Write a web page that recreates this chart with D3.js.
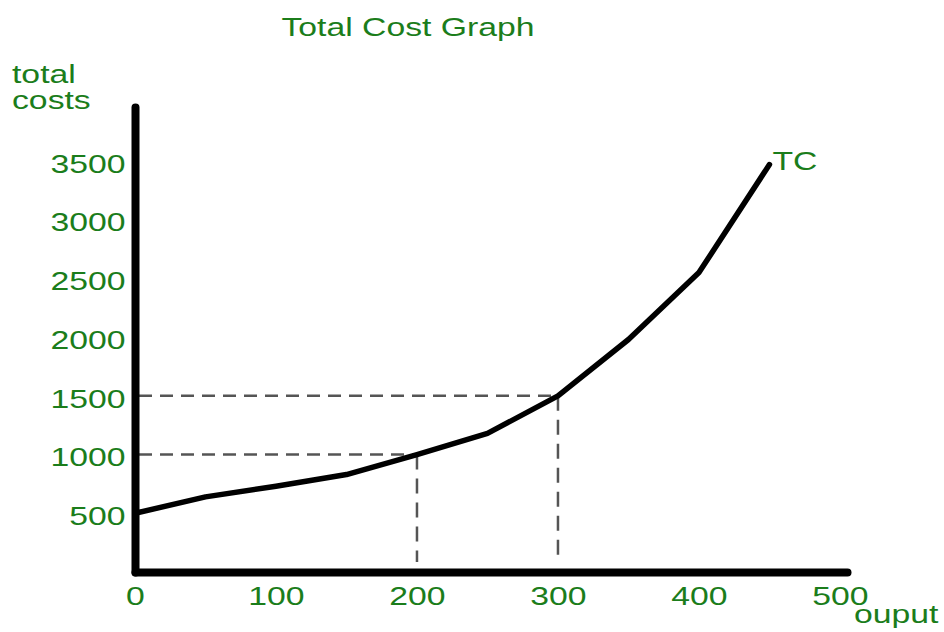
<!DOCTYPE html>
<html>
<head>
<meta charset="utf-8">
<script src="https://cdn.jsdelivr.net/npm/d3@7"></script>
<style>
    body { margin: 0; background: #fff; }
    svg text { font-family: "Liberation Sans", Arial, sans-serif; fill: #1b7d1b; }
</style>
</head>
<body>
<div id="chart"></div>
<script>
// output levels and total cost
const output = [0, 50, 100, 150, 200, 250, 300, 350, 400, 450];
const totalCost = [500, 640, 730, 830, 1000, 1180, 1500, 1980, 2550, 3470];

// guide points marked with dashed lines
const guideOutput = [200, 300];
const guideCost = [1000, 1500];

const xTicks = [0, 100, 200, 300, 400, 500];
const yTicks = [500, 1000, 1500, 2000, 2500, 3000, 3500];

const green = "#1b7d1b";
const stretch = 1.35;   // the lettering in the picture is wide

const width = 944, height = 632;

const svg = d3.select("#chart").append("svg")
    .attr("width", width)
    .attr("height", height);

// scales
let x = d3.scaleLinear()
    .domain([0, 505])
    .range([135, 847]);

let y = d3.scaleLinear()
    .domain([0, 3960])
    .range([572, 107]);

// helper for stretched text
function label(text, px, py, anchor) {
    return svg.append("text")
        .attr("transform", `translate(${px},${py}) scale(${stretch},1)`)
        .attr("text-anchor", anchor || "start")
        .style("font-size", "25px")
        .text(text);
}

// dashed guide lines
let guides = guideOutput.map((g, i) => ({x: g, y: guideCost[i]}));

svg.selectAll(".hguide")
    .data(guides)
    .enter()
    .append("line")
    .attr("class", "hguide")
    .attr("x1", x(0) + 4)
    .attr("x2", d => x(d.x))
    .attr("y1", d => y(d.y))
    .attr("y2", d => y(d.y))
    .attr("stroke", "#555")
    .attr("stroke-width", 2.5)
    .attr("stroke-dasharray", "13,8");

svg.selectAll(".vguide")
    .data(guides)
    .enter()
    .append("line")
    .attr("class", "vguide")
    .attr("x1", d => x(d.x))
    .attr("x2", d => x(d.x))
    .attr("y1", d => y(d.y))
    .attr("y2", y(0) - 10)
    .attr("stroke", "#555")
    .attr("stroke-width", 2.5)
    .attr("stroke-dasharray", "15,9");

// axes
let xAxis = svg.append("g")
    .attr("transform", `translate(0,${y(0)})`)
    .call(d3.axisBottom(x).tickValues(xTicks).tickFormat(d3.format("d")).tickSize(0).tickPadding(15));

let yAxis = svg.append("g")
    .attr("transform", `translate(${x(0)},0)`)
    .call(d3.axisLeft(y).tickValues(yTicks).tickFormat(d3.format("d")).tickSize(0).tickPadding(7));

[xAxis, yAxis].forEach(a => {
    a.select(".domain")
        .attr("stroke", "#000")
        .attr("stroke-width", 8)
        .attr("stroke-linecap", "round");
    a.selectAll("text")
        .attr("fill", green)
        .style("font-size", "25px")
        .style("font-family", "\"Liberation Sans\", Arial, sans-serif");
});

xAxis.selectAll("text")
    .attr("transform", `scale(${stretch},1)`);

yAxis.selectAll("text")
    .attr("dy", "0.45em")
    .attr("transform", `scale(${stretch},1)`);

// total cost curve
let line = d3.line()
    .x(d => x(d[0]))
    .y(d => y(d[1]))
    .curve(d3.curveLinear);

svg.append("path")
    .datum(output.map((o, i) => [o, totalCost[i]]))
    .attr("d", line)
    .attr("fill", "none")
    .attr("stroke", "#000")
    .attr("stroke-width", 5.5)
    .attr("stroke-linejoin", "round")
    .attr("stroke-linecap", "round");

// texts
label("Total Cost Graph", 408, 36, "middle");
label("total", 12, 83);
label("costs", 12, 109);
label("TC", x(output[output.length - 1]) + 3, y(totalCost[totalCost.length - 1]) + 5);
label("ouput", x(505) + 7, y(0) + 51);
</script>
</body>
</html>
